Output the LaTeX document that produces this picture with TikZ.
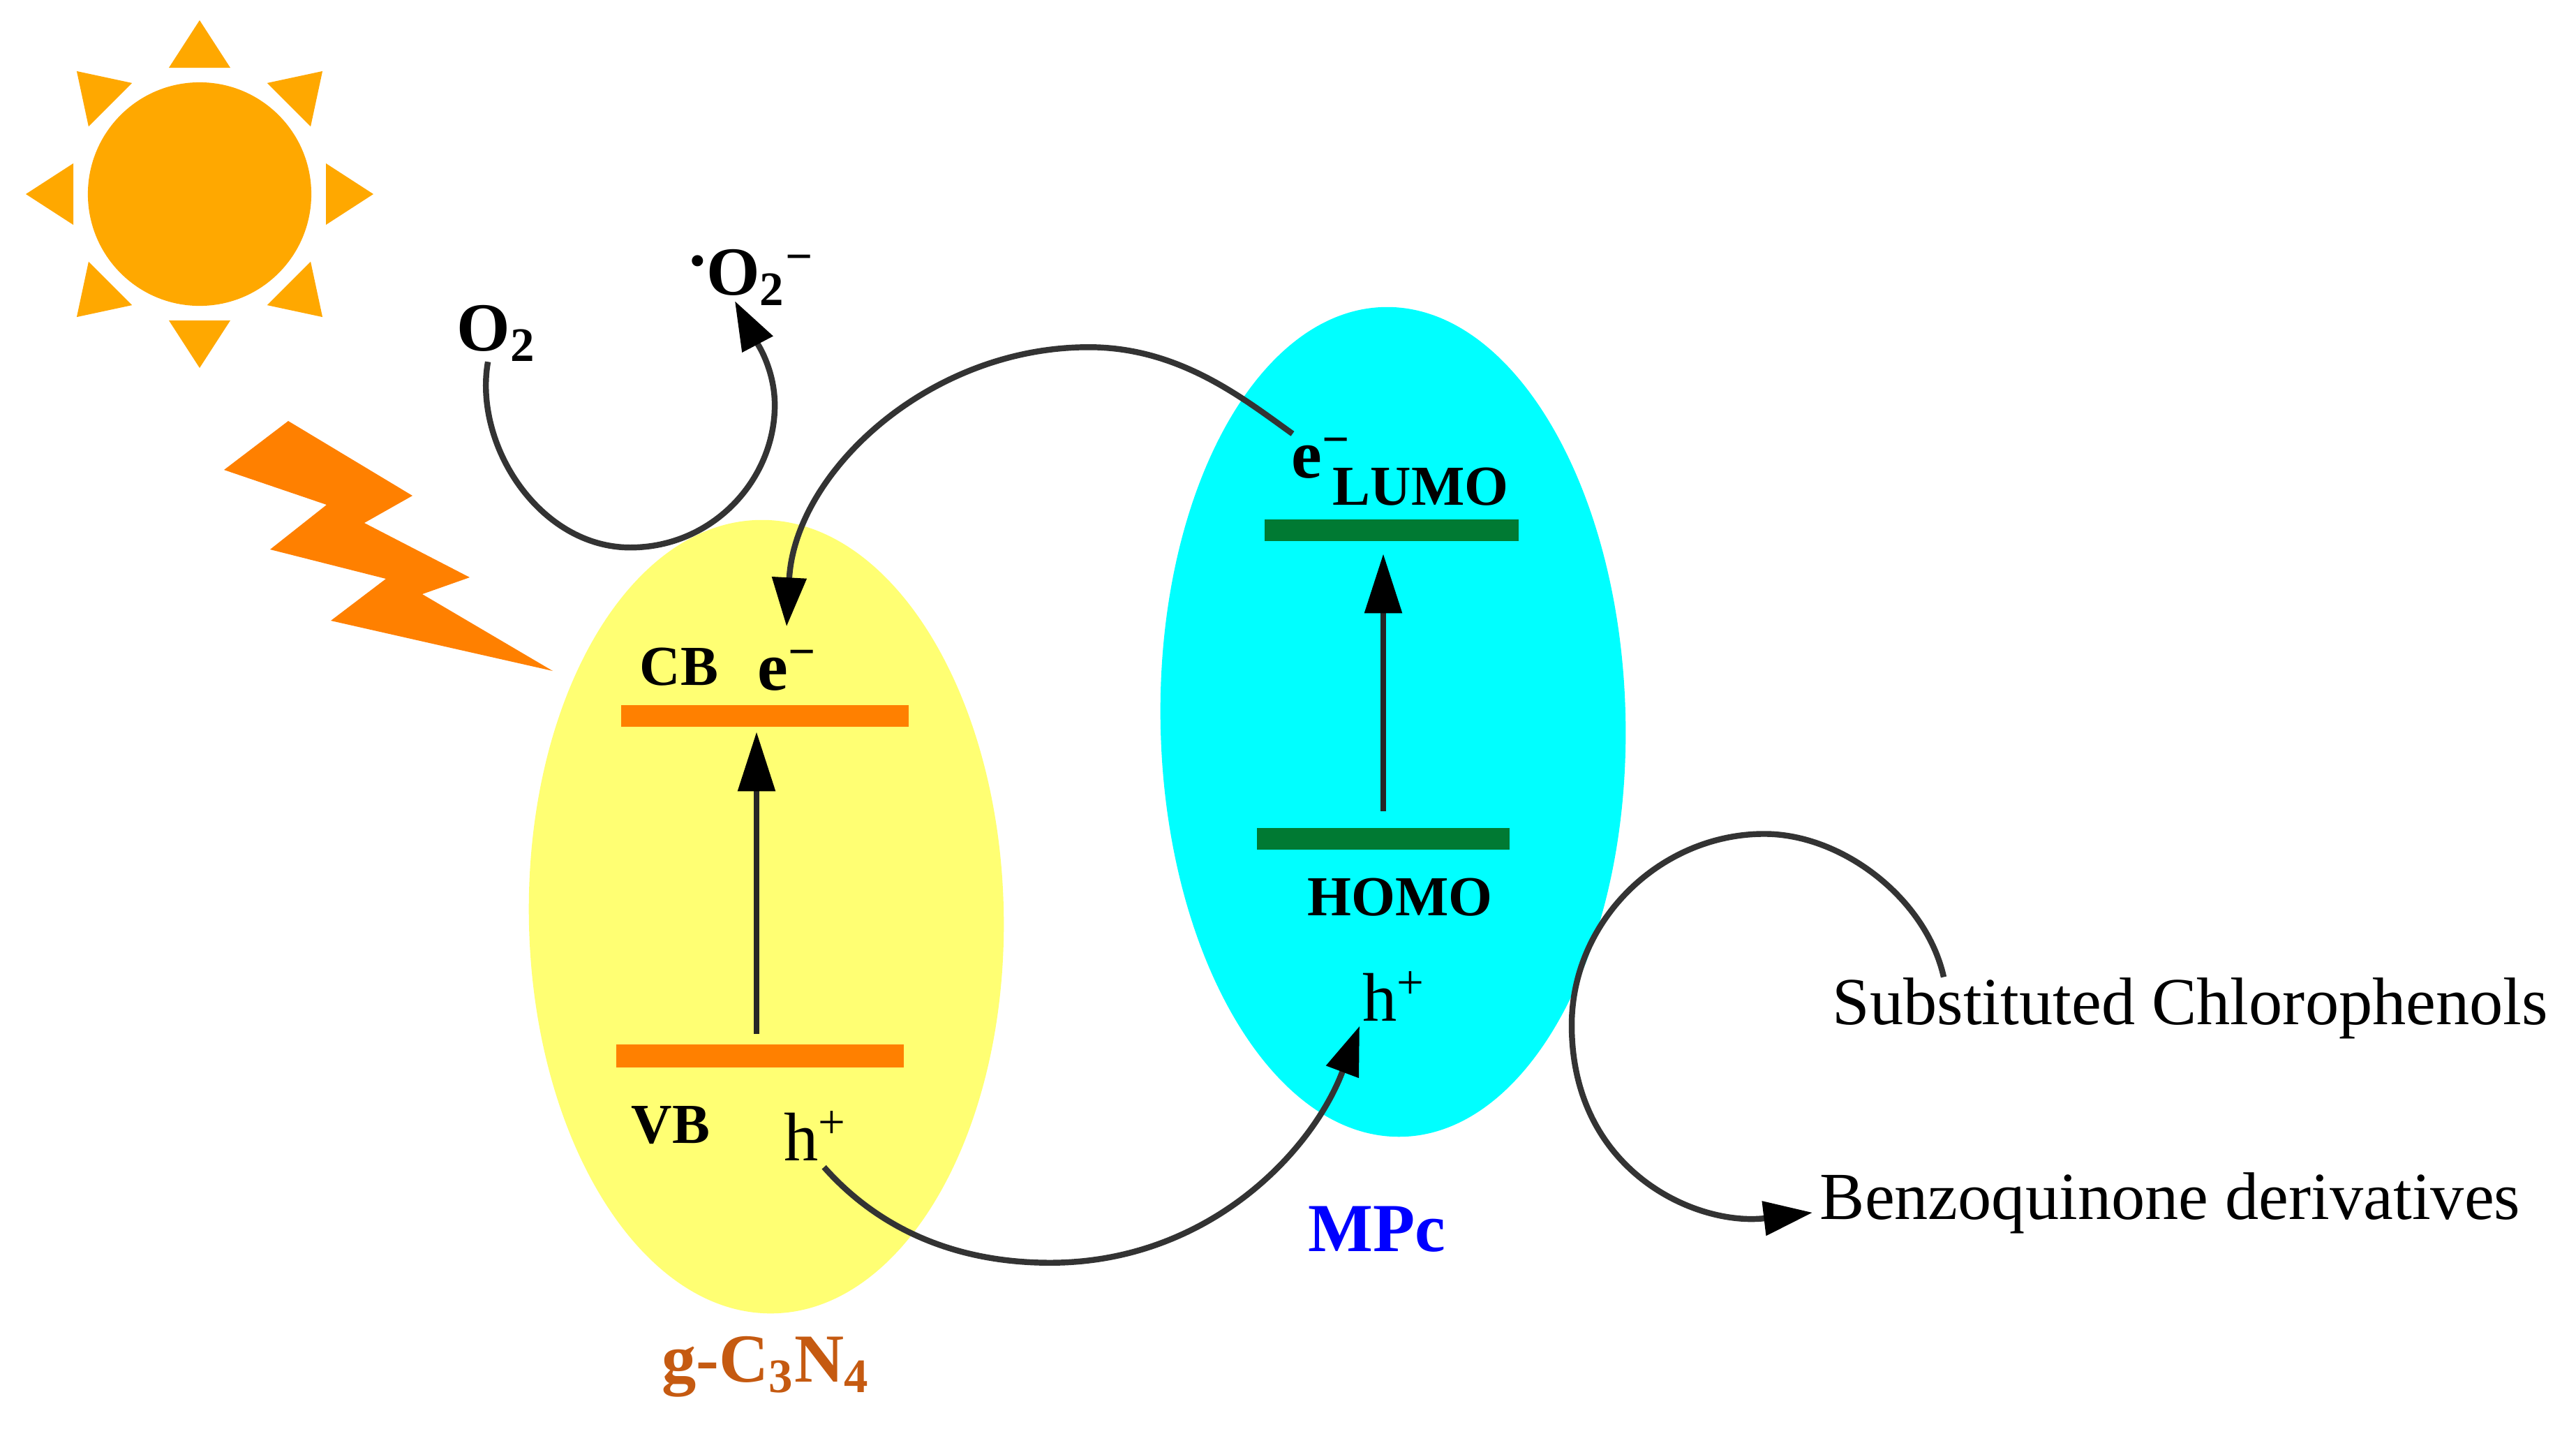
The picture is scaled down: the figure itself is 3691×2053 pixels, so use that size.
\documentclass[tikz,border=0pt]{standalone}
\usepackage{fontspec}
\setmainfont{Liberation Serif}
\usetikzlibrary{arrows.meta,shapes.geometric}
\definecolor{sunorange}{HTML}{FFA800}
\definecolor{bolt}{HTML}{FF8000}
\definecolor{gcnfill}{HTML}{FFFF73}
\definecolor{mpcfill}{HTML}{00FFFF}
\definecolor{bandgreen}{HTML}{007A33}
\definecolor{gcnlabel}{HTML}{C55A11}
\tikzset{
  blob/.style={ellipse,inner sep=0pt,draw=none},
  band/.style={rectangle,inner sep=0pt,minimum height=.31cm},
  txt/.style={inner sep=0pt,anchor=base west,font=\fontsize{28}{30}\selectfont},
  lvl/.style={inner sep=0pt,anchor=base west,font=\fontsize{23}{25}\selectfont\bfseries},
  bold/.style={txt,font=\fontsize{28}{30}\selectfont\bfseries},
  product/.style={txt,font=\fontsize{27.4}{30}\selectfont},
  uparrow/.style={line width=2.5pt,color=black!85,-{Triangle[length=.85cm,width=.52cm,color=black]}},
  curved/.style={line width=2.4pt,color=black!80,-{Triangle[length=.7cm,width=.48cm,color=black]}}
}
\begin{document}
\begin{tikzpicture}[x=0.01cm,y=-0.01cm]
  \useasboundingbox (0,0) rectangle (3691,2053);
  \fill[white] (0,0) rectangle (3691,2053);
  % sun
  \node[circle,fill=sunorange,inner sep=0pt,minimum size=3.2cm] (sun) at (286,278) {};
  \foreach \a in {0,45,...,315}{
    \begin{scope}[shift={(sun.center)},rotate=\a]
      \fill[sunorange] (249,0) -- (181,44) -- (181,-44) -- cycle;
    \end{scope}
  }
  \fill[bolt] (413,603) -- (591,710) -- (522,749) -- (673,827) -- (605,851) -- (792,961)
    -- (474,889) -- (553,829) -- (387,787) -- (468,723) -- (321,673) -- cycle;
  % the two semiconductors
  \node[blob,fill=gcnfill,minimum width=6.8cm,minimum height=11.36cm,rotate=1] (gcn) at (1098,1313) {};
  \node[blob,fill=mpcfill,minimum width=6.66cm,minimum height=11.88cm,rotate=1.2] (mpc) at (1996,1034) {};
  \node[band,fill=bolt,minimum width=4.12cm] (cb) at (1096,1025) {};
  \node[band,fill=bolt,minimum width=4.12cm,minimum height=.33cm] (vb) at (1089,1512) {};
  \node[band,fill=bandgreen,minimum width=3.63cm] (lumo) at (1994,759) {};
  \node[band,fill=bandgreen,minimum width=3.62cm] (homo) at (1982,1201) {};
  % labels
  \node[lvl] (cblabel) at (916,981) {CB};
  \node[lvl] (vblabel) at (904,1637) {VB};
  \node[lvl] (lumolabel) at (1909,723) {LUMO};
  \node[lvl] (homolabel) at (1873,1311) {HOMO};
  \node[bold] (ecb) at (1085,988) {e\textsuperscript{\textminus}};
  \node[bold] (elumo) at (1850,684) {e\textsuperscript{\textminus}};
  \node[txt] (hvb) at (1123,1662) {h\textsuperscript{+}};
  \node[txt] (hhomo) at (1952,1462) {h\textsuperscript{+}};
  \node[bold] (otwo) at (654,502) {O\textsubscript{2}};
  \node[bold] (orad) at (987,422) {\raisebox{.42em}{.}O\textsubscript{2}\textsuperscript{\textminus}};
  \node[bold,text=gcnlabel] (gcnname) at (948,1979) {g-C\textsubscript{3}N\textsubscript{4}};
  \node[bold,text=blue] (mpcname) at (1874,1792) {MPc};
  \node[product] (phenols) at (2625,1467) {Substituted Chlorophenols};
  \node[product] (quinone) at (2607,1746) {Benzoquinone derivatives};
  % arrows
  \draw[uparrow] ([shift={(-5,-14)}]vb.north) -- ([shift={(-12,7)}]cb.south);
  \draw[uparrow] ([shift={(0,-23)}]homo.north) -- ([shift={(-12,18)}]lumo.south);
  \draw[curved] ([shift={(-12,0)}]otwo.south) .. controls +(-21,119) and +(-130,0) .. ++(204,266)
    .. controls +(118,0) and +(0,107) .. ++(207,-204) .. controls +(0,-53) and +(30,57) .. ([shift={(-24,-7)}]orad.south);
  \draw[curved] ([shift={(2,-5)}]elumo.north west) .. controls +(-70,-50) and +(130,0) .. ++(-292,-124)
    .. controls +(-230,0) and +(12,-220) .. ([shift={(-1,-33)}]ecb.north);
  \draw[curved] ([shift={(12,9)}]hvb.south) .. controls +(79,89) and +(-135,0) .. ++(324,137)
    .. controls +(225,0) and +(-68,181) .. ([shift={(-4,7)}]hhomo.south west);
  \draw[curved] ([shift={(160,0)}]phenols.north west) .. controls +(-25,-112) and +(112,0) .. ++(-257,-205)
    .. controls +(-148,0) and +(0,-151) .. ++(-276,274) .. controls +(0,209) and +(-167,20) .. ([shift={(-10,14)}]quinone.west);
\end{tikzpicture}
\end{document}
